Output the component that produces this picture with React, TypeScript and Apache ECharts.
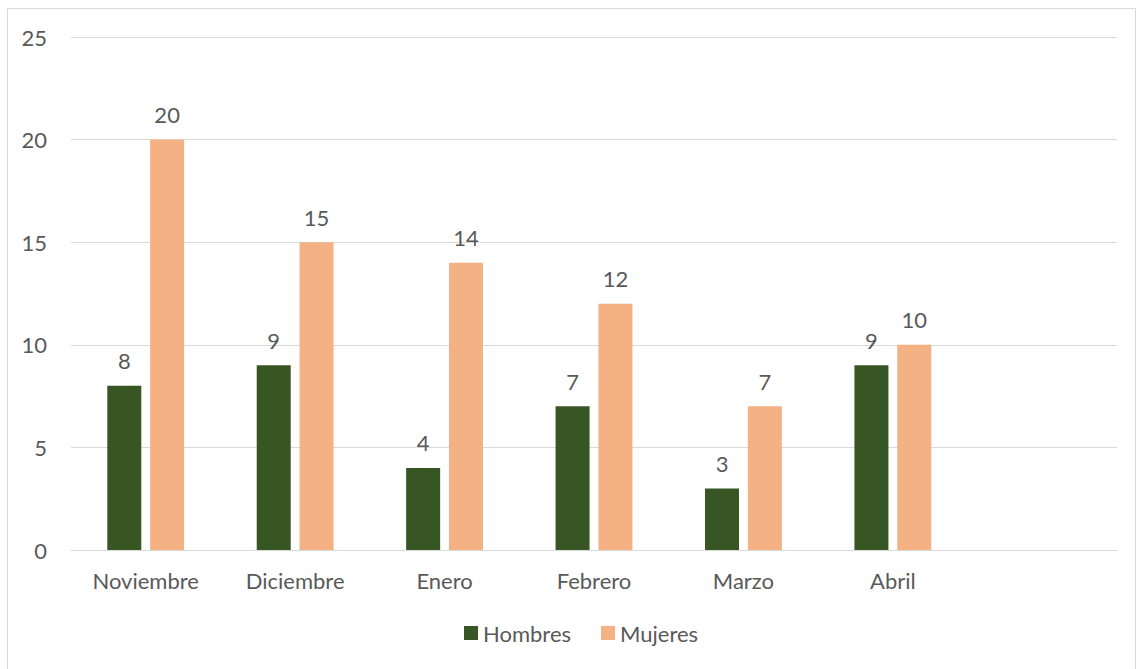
import React, { useEffect, useRef } from "react";
import * as echarts from "echarts";

const categories = ["Noviembre", "Diciembre", "Enero", "Febrero", "Marzo", "Abril", ""];
const hombres = [8, 9, 4, 7, 3, 9, null];
const mujeres = [20, 15, 14, 12, 7, 10, null];
const seriesNames = ["Hombres", "Mujeres"];

const FONT = "Lato, 'Open Sans', sans-serif";
const TEXT = "#595959";
const FS = 22;

export default function App() {
  const ref = useRef<HTMLDivElement>(null);
  useEffect(() => {
    if (!ref.current) return;
    const chart = echarts.init(ref.current, null, { renderer: "svg" });
    const label = {
      show: true,
      position: "top",
      distance: 14,
      color: TEXT,
      fontSize: FS,
      fontFamily: FONT,
    };
    chart.setOption({
      animation: false,
      backgroundColor: "#ffffff",
      textStyle: { fontFamily: FONT },
      graphic: [
        {
          type: "rect",
          shape: { x: 7.5, y: 8.5, width: 1128, height: 670 },
          style: { fill: "none", stroke: "#d9d9d9", lineWidth: 1 },
          silent: true,
        },
      ],
      grid: { left: 71, right: 21, top: 37, bottom: 119, containLabel: false },
      legend: {
        data: seriesNames,
        left: 459,
        top: 617,
        itemWidth: 14,
        itemHeight: 14,
        itemGap: 30,
        icon: "rect",
        textStyle: { color: TEXT, fontSize: FS, fontFamily: FONT, padding: [0, 0, 0, 0] },
      },
      xAxis: {
        type: "category",
        data: categories,
        axisLine: { lineStyle: { color: "#d9d9d9", width: 1 } },
        axisTick: { show: false },
        axisLabel: { color: TEXT, fontSize: FS, fontFamily: FONT, margin: 19, interval: 0 },
      },
      yAxis: {
        type: "value",
        min: 0,
        max: 25,
        interval: 5,
        axisLine: { show: false },
        axisTick: { show: false },
        splitLine: { lineStyle: { color: "#d9d9d9", width: 1 } },
        axisLabel: { color: TEXT, fontSize: FS, fontFamily: FONT, margin: 24 },
      },
      series: [
        {
          name: seriesNames[0],
          type: "bar",
          data: hombres,
          barWidth: 34,
          barGap: "26%",
          itemStyle: { color: "#375623" },
          label,
        },
        {
          name: seriesNames[1],
          type: "bar",
          data: mujeres,
          barWidth: 34,
          barGap: "26%",
          itemStyle: { color: "#F4B183" },
          label,
        },
      ],
    });
    return () => chart.dispose();
  }, []);
  return (
    <div
      ref={ref}
      style={{ position: "absolute", left: 0, top: 0, width: 1138, height: 669 }}
    />
  );
}
